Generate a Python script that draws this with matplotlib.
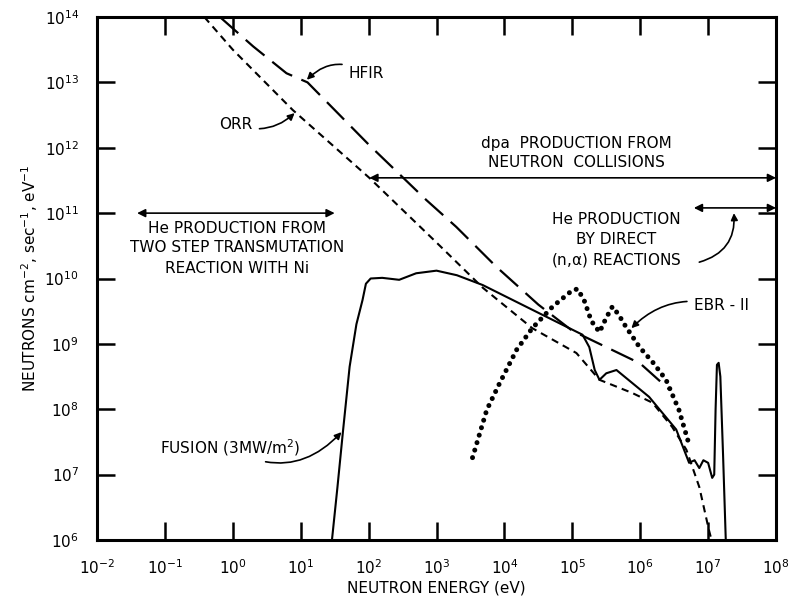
import numpy as np
import matplotlib
matplotlib.use("Agg")
import matplotlib.pyplot as plt

plt.rcParams['mathtext.default'] = 'regular'
plt.rcParams['font.family'] = 'DejaVu Sans'

# curves, as log10(energy eV) / log10(flux)
orr_logE = [-0.42, 0.0, 0.88, 2.01, 3.0, 3.68, 4.41, 5.06, 5.40, 5.88, 6.18, 6.47, 6.68, 6.87, 7.01, 7.05]
orr_logF = [14.0, 13.5, 12.58, 11.54, 10.55, 9.86, 9.24, 8.86, 8.45, 8.25, 8.10, 7.73, 7.38, 6.81, 6.16, 6.0]

hfir_logE = [-0.19, 0.3, 0.79, 1.10, 2.0, 2.85, 3.29, 3.88, 4.5, 5.0, 5.5, 6.0, 6.43]
hfir_logF = [14.0, 13.55, 13.14, 13.0, 12.05, 11.2, 10.79, 10.18, 9.6, 9.2, 8.95, 8.7, 8.3]

fusion_logE = [1.46, 1.54, 1.62, 1.72, 1.82, 1.91, 1.96, 2.03, 2.2, 2.45, 2.7, 3.0, 3.3, 3.68, 4.51, 5.15,
               5.25, 5.33, 5.40, 5.5, 5.65, 6.13, 6.53, 6.72, 6.8, 6.87, 6.93, 7.0, 7.06,
               7.09, 7.11, 7.13, 7.155, 7.18, 7.22, 7.26]
fusion_logF = [6.0, 6.8, 7.64, 8.65, 9.3, 9.67, 9.92, 10.0, 10.01, 9.98, 10.08, 10.12, 10.05, 9.9, 9.47, 9.14,
               8.95, 8.6, 8.45, 8.55, 8.60, 8.19, 7.69, 7.18, 7.22, 7.1, 7.22, 7.18, 6.95,
               7.0, 8.0, 8.68, 8.71, 8.5, 7.3, 6.0]

ebr_logE = [3.53, 3.74, 3.93, 4.18, 4.41, 4.71, 5.0, 5.08, 5.18, 5.28, 5.40, 5.50, 5.59, 5.68,
            5.79, 5.99, 6.2, 6.38, 6.57, 6.72]
ebr_logF = [7.26, 7.99, 8.40, 8.91, 9.24, 9.57, 9.82, 9.84, 9.65, 9.35, 9.18, 9.4, 9.57, 9.45,
            9.26, 8.95, 8.7, 8.45, 7.99, 7.46]

xtick_exp = [-2, -1, 0, 1, 2, 3, 4, 5, 6, 7, 8]
ytick_exp = [6, 7, 8, 9, 10, 11, 12, 13, 14]

fig = plt.figure(figsize=(7.96, 5.97), dpi=100)
ax = fig.add_axes([0.1219, 0.0955, 0.853, 0.876])
ax.set_xscale('log')
ax.set_yscale('log')
ax.set_xlim(1e-2, 1e8)
ax.set_ylim(1e6, 1e14)

def p(le, lf):
    return 10.0 ** np.array(le), 10.0 ** np.array(lf)

x, y = p(orr_logE, orr_logF)
ax.plot(x, y, color='black', lw=1.5, dashes=(3.5, 2.5))
x, y = p(hfir_logE, hfir_logF)
ax.plot(x, y, color='black', lw=1.6, dashes=(11, 4.5))
x, y = p(fusion_logE, fusion_logF)
ax.plot(x, y, color='black', lw=1.5, solid_joinstyle='round')
x, y = p(ebr_logE, ebr_logF)
ax.plot(x, y, color='black', lw=3.6, dashes=(0.01, 1.55), dash_capstyle='round')

# axes styling
for s in ax.spines.values():
    s.set_linewidth(2.2)
ax.set_xticks([10.0 ** e for e in xtick_exp])
ax.set_xticklabels(['$10^{%d}$' % e for e in xtick_exp])
ax.set_yticks([10.0 ** e for e in ytick_exp])
ax.set_yticklabels(['$10^{%d}$' % e for e in ytick_exp])
ax.minorticks_off()
ax.tick_params(which='major', direction='in', length=13, width=1.8,
               top=True, right=True, labelsize=11)
ax.tick_params(axis='x', pad=13)
ax.tick_params(axis='y', pad=13)

ax.set_xlabel('NEUTRON ENERGY (eV)', fontsize=11, labelpad=3)
ax.set_ylabel('NEUTRONS cm$^{-2}$, sec$^{-1}$, eV$^{-1}$', fontsize=11, labelpad=3)

fs = 11
# labels with curved arrows
arr = dict(arrowstyle='-|>', color='black', lw=1.2, mutation_scale=10)
ax.annotate('HFIR', xy=p(1.09, 13.04), xytext=p(1.71, 13.14), fontsize=fs,
            ha='left', va='center',
            arrowprops=dict(arr, connectionstyle='arc3,rad=0.4', shrinkA=3, shrinkB=0))
ax.annotate('ORR', xy=p(0.91, 12.53), xytext=p(0.29, 12.35), fontsize=fs,
            ha='right', va='center',
            arrowprops=dict(arr, connectionstyle='arc3,rad=0.3', shrinkA=3, shrinkB=0))
ax.annotate('EBR - II', xy=p(5.87, 9.24), xytext=p(6.79, 9.58), fontsize=fs,
            ha='left', va='center',
            arrowprops=dict(arr, connectionstyle='arc3,rad=0.3', shrinkA=3, shrinkB=0))
ax.annotate('FUSION (3MW/m$^2$)', xy=p(1.60, 7.65), xytext=p(0.99, 7.41), fontsize=fs,
            ha='right', va='center',
            arrowprops=dict(arr, connectionstyle='arc3,rad=0.4', shrinkA=3, shrinkB=0))

# range arrows
dbl = dict(arrowstyle='<|-|>', color='black', lw=1.2, mutation_scale=12, shrinkA=0, shrinkB=0)
ax.annotate('', xy=p(8.0, 11.54), xytext=p(2.01, 11.54), arrowprops=dbl)
ax.annotate('', xy=p(1.5, 11.0), xytext=p(-1.41, 11.0), arrowprops=dbl)
ax.annotate('', xy=p(8.0, 11.08), xytext=p(6.79, 11.08), arrowprops=dbl)

ax.text(*p(5.06, 12.07), 'dpa  PRODUCTION FROM', fontsize=fs, ha='center', va='center')
ax.text(*p(5.06, 11.78), 'NEUTRON  COLLISIONS', fontsize=fs, ha='center', va='center')

ax.text(*p(0.06, 10.76), 'He PRODUCTION FROM', fontsize=fs, ha='center', va='center')
ax.text(*p(0.06, 10.47), 'TWO STEP TRANSMUTATION', fontsize=fs, ha='center', va='center')
ax.text(*p(0.06, 10.16), 'REACTION WITH Ni', fontsize=fs, ha='center', va='center')

ax.text(*p(5.65, 10.90), 'He PRODUCTION', fontsize=fs, ha='center', va='center')
ax.text(*p(5.65, 10.59), 'BY DIRECT', fontsize=fs, ha='center', va='center')
ax.text(*p(5.65, 10.28), '(n,$\\alpha$) REACTIONS', fontsize=fs, ha='center', va='center')
ax.annotate('', xy=p(7.38, 11.0), xytext=p(6.87, 10.25),
            arrowprops=dict(arr, connectionstyle='arc3,rad=0.4', shrinkA=0, shrinkB=0))

fig.savefig('out.png', dpi=100)
